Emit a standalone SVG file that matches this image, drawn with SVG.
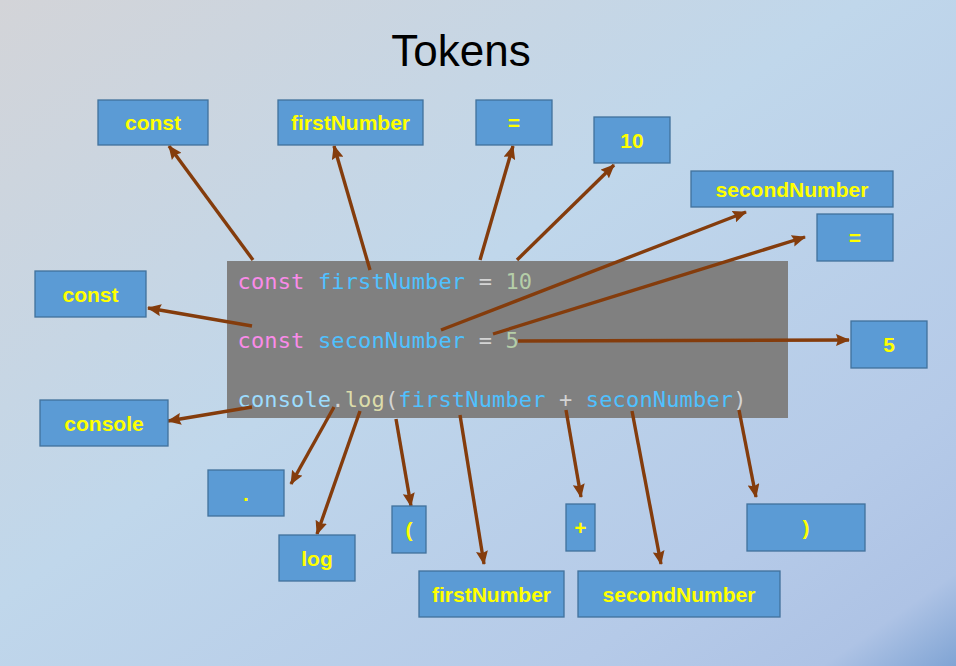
<svg xmlns="http://www.w3.org/2000/svg" width="956" height="666" viewBox="0 0 956 666">
<defs>
<linearGradient id="bg" x1="0" y1="0" x2="1" y2="1">
<stop offset="0" stop-color="#d3d4d8"/>
<stop offset="0.45" stop-color="#c0d7eb"/>
<stop offset="0.8" stop-color="#b5cae8"/>
<stop offset="0.93" stop-color="#aec3e5"/>
<stop offset="1" stop-color="#80a4d4"/>
</linearGradient>
<marker id="ah" markerUnits="userSpaceOnUse" markerWidth="14" markerHeight="12" viewBox="0 0 14 12" refX="13" refY="6" orient="auto">
<path d="M0,0 L14,6 L0,12 L2,6 z" fill="#843c0c"/>
</marker>
</defs>
<style>
.box{fill:#5b9bd5;stroke:#41719c;stroke-width:1.3}
.lbl{font-family:"Liberation Sans",Arial,sans-serif;font-weight:bold;font-size:21px;fill:#ffff00;text-anchor:middle}
.code{font-family:"DejaVu Sans Mono","Liberation Mono",monospace;font-size:22px;letter-spacing:0.15px;white-space:pre}
.kw{fill:#f98be8}.id{fill:#4fc1ff}.op{fill:#d4d4d4}.num{fill:#b5cea8}.obj{fill:#9cdcfe}.fn{fill:#dcdcaa}
.arr{stroke:#843c0c;stroke-width:3.4;fill:none;marker-end:url(#ah)}
</style>
<rect width="956" height="666" fill="url(#bg)"/>
<text x="461" y="66" font-family="Liberation Sans,Arial,sans-serif" font-size="44" text-anchor="middle" fill="#000">Tokens</text>
<g id="code">
<rect x="227" y="261" width="561" height="157" fill="#808080"/>
<text class="code" x="237.5" y="289"><tspan class="kw">const</tspan><tspan class="op"> </tspan><tspan class="id">firstNumber</tspan><tspan class="op"> = </tspan><tspan class="num">10</tspan></text>
<text class="code" x="237.5" y="348"><tspan class="kw">const</tspan><tspan class="op"> </tspan><tspan class="id">seconNumber</tspan><tspan class="op"> = </tspan><tspan class="num">5</tspan></text>
<text class="code" x="237.5" y="407"><tspan class="obj">console</tspan><tspan class="op">.</tspan><tspan class="fn">log</tspan><tspan class="op">(</tspan><tspan class="id">firstNumber</tspan><tspan class="op"> + </tspan><tspan class="id">seconNumber</tspan><tspan class="op">)</tspan></text>
</g>
<g id="connectors">
<line class="arr" x1="253" y1="260" x2="169" y2="146"/>
<line class="arr" x1="370" y1="270" x2="334" y2="146"/>
<line class="arr" x1="480" y1="260" x2="513" y2="146"/>
<line class="arr" x1="517" y1="260" x2="614" y2="165"/>
<line class="arr" x1="441" y1="330" x2="746" y2="212"/>
<line class="arr" x1="493" y1="334" x2="805" y2="237"/>
<line class="arr" x1="252" y1="326" x2="148" y2="308"/>
<line class="arr" x1="518" y1="341" x2="849" y2="340"/>
<line class="arr" x1="252" y1="407" x2="168" y2="421"/>
<line class="arr" x1="334" y1="407" x2="291" y2="484"/>
<line class="arr" x1="360" y1="411" x2="317" y2="534"/>
<line class="arr" x1="396" y1="419" x2="411" y2="506"/>
<line class="arr" x1="460" y1="415" x2="484" y2="564"/>
<line class="arr" x1="566" y1="410" x2="581" y2="497"/>
<line class="arr" x1="632" y1="411" x2="661" y2="564"/>
<line class="arr" x1="739" y1="410" x2="756" y2="497"/>
</g>
<g id="n-const-top"><rect class="box" x="98" y="100" width="110" height="45"/><text class="lbl" x="153" y="130">const</text></g>
<g id="n-first-top"><rect class="box" x="278" y="100" width="145" height="45"/><text class="lbl" x="350.5" y="130">firstNumber</text></g>
<g id="n-eq-top"><rect class="box" x="476" y="100" width="76" height="45"/><text class="lbl" x="514" y="130">=</text></g>
<g id="n-10"><rect class="box" x="594" y="117" width="76" height="46"/><text class="lbl" x="632" y="147.5">10</text></g>
<g id="n-second-top"><rect class="box" x="691" y="171" width="202" height="36"/><text class="lbl" x="792" y="197">secondNumber</text></g>
<g id="n-eq-right"><rect class="box" x="817" y="214" width="76" height="47"/><text class="lbl" x="855" y="245">=</text></g>
<g id="n-const-left"><rect class="box" x="35" y="271" width="111" height="46"/><text class="lbl" x="90.5" y="301.5">const</text></g>
<g id="n-5"><rect class="box" x="851" y="321" width="76" height="47"/><text class="lbl" x="889" y="352">5</text></g>
<g id="n-console"><rect class="box" x="40" y="400" width="128" height="46"/><text class="lbl" x="104" y="430.5">console</text></g>
<g id="n-dot"><rect class="box" x="208" y="470" width="76" height="46"/><text class="lbl" x="246" y="500.5">.</text></g>
<g id="n-log"><rect class="box" x="279" y="535" width="76" height="46"/><text class="lbl" x="317" y="565.5">log</text></g>
<g id="n-lparen"><rect class="box" x="392" y="506" width="34" height="47"/><text class="lbl" x="409" y="537">(</text></g>
<g id="n-first-bottom"><rect class="box" x="419" y="571" width="145" height="46"/><text class="lbl" x="491.5" y="601.5">firstNumber</text></g>
<g id="n-plus"><rect class="box" x="566" y="504" width="29" height="47"/><text class="lbl" x="580.5" y="535">+</text></g>
<g id="n-second-bottom"><rect class="box" x="578" y="571" width="202" height="46"/><text class="lbl" x="679" y="601.5">secondNumber</text></g>
<g id="n-rparen"><rect class="box" x="747" y="504" width="118" height="47"/><text class="lbl" x="806" y="535">)</text></g>
</svg>
